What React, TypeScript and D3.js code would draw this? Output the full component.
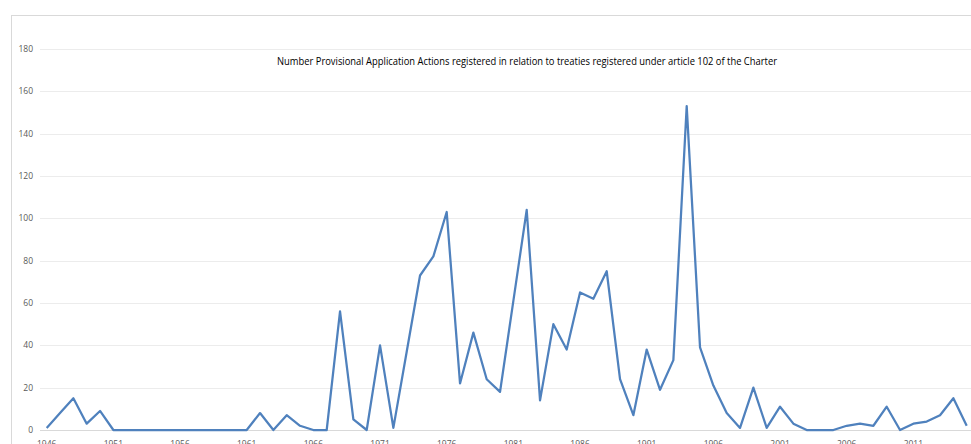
import React, { useEffect, useRef } from "react";
import * as d3 from "d3";

const years = d3.range(1946, 2016);
const counts = [
  1, 8, 15, 3, 9, 0, 0, 0, 0, 0,
  0, 0, 0, 0, 0, 0, 8, 0, 7, 2,
  0, 0, 56, 5, 0, 40, 1, 37, 73, 82,
  103, 22, 46, 24, 18, 61, 104, 14, 50, 38,
  65, 62, 75, 24, 7, 38, 19, 33, 153, 39,
  21, 8, 1, 20, 1, 11, 3, 0, 0, 0,
  2, 3, 2, 11, 0, 3, 4, 7, 15, 2,
];
const yTicks = [0, 20, 40, 60, 80, 100, 120, 140, 160, 180];
const xTicks = [1946, 1951, 1956, 1961, 1966, 1971, 1976, 1981, 1986, 1991, 1996, 2001, 2006, 2011];
const title = "Number Provisional Application Actions registered in relation to treaties registered under article 102 of the Charter";

const App = () => {
  const svgRef = useRef<SVGSVGElement>(null);

  useEffect(() => {
    const width = 971;
    const height = 444;
    const svg = d3.select(svgRef.current)
      .attr("width", width)
      .attr("height", height);
    svg.selectAll("*").remove();

    const x = d3.scaleLinear().domain([1946, 2015]).range([46.7, 966.7]);
    const y = d3.scaleLinear().domain([0, 180]).range([430, 49]);

    // chart area border
    svg.append("rect")
      .attr("x", 11.5)
      .attr("y", 15.5)
      .attr("width", 980)
      .attr("height", 460)
      .attr("fill", "#fff")
      .attr("stroke", "#d9d9d9");

    svg.append("g")
      .selectAll("line")
      .data(yTicks)
      .enter().append("line")
      .attr("x1", 40)
      .attr("x2", width)
      .attr("y1", d => Math.round(y(d)) + 0.5)
      .attr("y2", d => Math.round(y(d)) + 0.5)
      .attr("stroke", d => (d === 0 ? "#d9d9d9" : "#ececec"))
      .attr("stroke-width", 1);

    svg.append("g")
      .selectAll("text")
      .data(yTicks)
      .enter().append("text")
      .attr("x", 33)
      .attr("y", d => y(d))
      .attr("dy", "0.35em")
      .attr("text-anchor", "end")
      .attr("font-family", "Open Sans, sans-serif")
      .attr("font-size", 8.5)
      .attr("fill", "#595959")
      .text(d => d);

    svg.append("g")
      .selectAll("text")
      .data(xTicks)
      .enter().append("text")
      .attr("x", d => x(d))
      .attr("y", 447)
      .attr("text-anchor", "middle")
      .attr("font-family", "Open Sans, sans-serif")
      .attr("font-size", 8.5)
      .attr("fill", "#595959")
      .text(d => d);

    const line = d3.line<number>()
      .x((d, i) => x(years[i]))
      .y(d => y(d));

    svg.append("path")
      .datum(counts)
      .attr("d", line)
      .attr("fill", "none")
      .attr("stroke", "#4f81bd")
      .attr("stroke-width", 2.25)
      .attr("stroke-linejoin", "round");

    svg.append("text")
      .attr("x", 527)
      .attr("y", 65)
      .attr("text-anchor", "middle")
      .attr("font-family", "Open Sans, sans-serif")
      .attr("font-size", 10.5)
      .attr("fill", "#000")
      .attr("textLength", 500)
      .attr("lengthAdjust", "spacingAndGlyphs")
      .text(title);
  }, []);

  return (
    <svg ref={svgRef} style={{ position: "absolute", left: 0, top: 0 }}></svg>
  );
};

export default App;
